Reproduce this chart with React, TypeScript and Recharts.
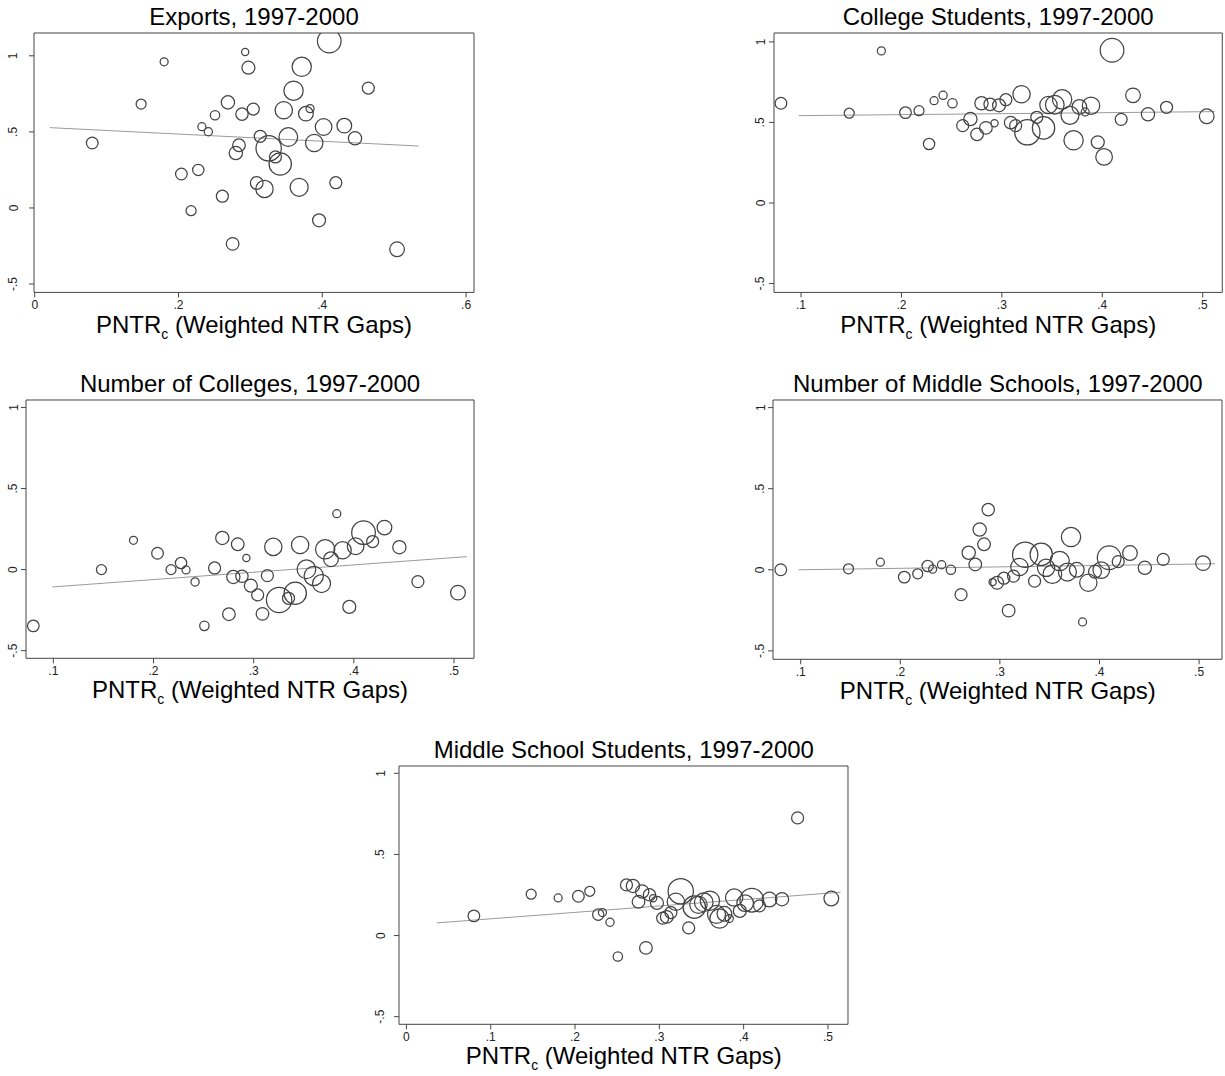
import React from 'react'
import {
  ScatterChart, Scatter, XAxis, YAxis, ZAxis, ReferenceLine, ReferenceArea,
} from 'recharts'

// PNTR_c for the 40 cities (shared by every panel) and the bubble weights
const pntr = [
  0.080, 0.148, 0.180, 0.204, 0.2175, 0.2275, 0.2325, 0.2415, 0.2508, 0.261,
  0.2687, 0.2753, 0.2797, 0.2841, 0.2883, 0.2927, 0.2972, 0.304, 0.3088, 0.3137,
  0.3196, 0.3254, 0.3348, 0.3415, 0.3464, 0.3527, 0.360, 0.3678, 0.3714, 0.3772,
  0.383, 0.3888, 0.3955, 0.4018, 0.4097, 0.4188, 0.4306, 0.4455, 0.464, 0.504,
]
const weight = [
  34, 25, 16, 34, 25, 32, 16, 17, 22, 36,
  44, 40, 44, 40, 38, 13, 42, 36, 40, 36,
  75, 160, 36, 125, 75, 87, 93, 81, 93, 54,
  16, 75, 42, 69, 140, 36, 54, 44, 36, 54,
]

const exportsY = [
  0.427, 0.683, 0.961, 0.223, -0.018, 0.250, 0.534, 0.501, 0.609, 0.077,
  0.694, -0.236, 0.361, 0.412, 0.617, 1.025, 0.922, 0.650, 0.164, 0.471,
  0.125, 0.392, 0.335, 0.289, 0.642, 0.466, 0.771, 0.136, 0.928, 0.620,
  0.653, 0.427, -0.081, 0.532, 1.097, 0.166, 0.541, 0.458, 0.788, -0.272,
]
const collegeStudentsY = [
  0.619, 0.557, 0.944, 0.561, 0.573, 0.366, 0.635, 0.668, 0.619, 0.480,
  0.521, 0.426, 0.619, 0.466, 0.612, 0.495, 0.606, 0.641, 0.499, 0.480,
  0.675, 0.439, 0.532, 0.466, 0.608, 0.610, 0.643, 0.544, 0.389, 0.596,
  0.565, 0.604, 0.377, 0.286, 0.948, 0.519, 0.668, 0.550, 0.594, 0.538,
]
const collegesY = [
  -0.347, 0.0, 0.181, 0.101, 0.0, 0.041, -0.002, -0.076, -0.347, 0.010,
  0.195, -0.275, -0.045, 0.156, -0.041, 0.072, -0.099, -0.156, -0.273, -0.037,
  0.140, -0.187, -0.177, -0.146, 0.152, 0.002, -0.039, -0.086, 0.125, 0.064,
  0.345, 0.119, -0.230, 0.144, 0.228, 0.173, 0.259, 0.138, -0.074, -0.142,
]
const middleSchoolsY = [
  0.0, 0.006, 0.047, -0.045, -0.025, 0.023, 0.004, 0.031, 0.0, -0.153,
  0.105, 0.033, 0.248, 0.157, 0.371, -0.076, -0.080, -0.052, -0.252, -0.039,
  0.017, 0.093, -0.070, 0.095, 0.012, -0.027, 0.054, -0.014, 0.202, 0.0,
  -0.322, -0.080, -0.012, -0.002, 0.074, 0.050, 0.103, 0.012, 0.064, 0.041,
]
const middleStudentsY = [
  0.121, 0.255, 0.232, 0.242, 0.273, 0.129, 0.142, 0.082, -0.129, 0.312,
  0.306, 0.208, 0.271, -0.076, 0.251, 0.230, 0.201, 0.107, 0.115, 0.142,
  0.208, 0.273, 0.047, 0.175, 0.190, 0.205, 0.215, 0.130, 0.105, 0.134,
  0.105, 0.234, 0.152, 0.200, 0.218, 0.183, 0.222, 0.224, 0.725, 0.228,
]

// fitted-line endpoints
const exportsFit = [{ x: 0.021, y: 0.528 }, { x: 0.534, y: 0.407 }]
const collegeStudentsFit = [{ x: 0.098, y: 0.542 }, { x: 0.512, y: 0.567 }]
const collegesFit = [{ x: 0.099, y: -0.107 }, { x: 0.513, y: 0.080 }]
const middleSchoolsFit = [{ x: 0.098, y: 0.0 }, { x: 0.516, y: 0.037 }]
const middleStudentsFit = [{ x: 0.036, y: 0.078 }, { x: 0.515, y: 0.267 }]

const yTicks = [-0.5, 0, 0.5, 1]
const FONT = '"Liberation Sans", Arial, Helvetica, sans-serif'
const INK = '#444'
const Y_W = 30
const X_H = 30

function fmt(v: number): string {
  if (v === 0) return '0'
  return String(v).replace('0.', '.')
}

function Bubble(p: any) {
  const r = p.size != null ? Math.sqrt(p.size / Math.PI) : p.width / 2
  return <circle cx={p.cx} cy={p.cy} r={r} fill="none" stroke={INK} strokeWidth={1.25} />
}

interface PanelProps {
  title: string
  ys: number[]
  fit: { x: number; y: number }[]
  box: { left: number; top: number; width: number; height: number }
  xDomain: [number, number]
  yDomain: [number, number]
  xTicks: number[]
  gap: number
}

function Panel({ ys, fit, box, xDomain, yDomain, xTicks, gap }: PanelProps) {
  const data = pntr.map((x, i) => ({ x, y: ys[i], w: weight[i] }))
  const YTick = (props: any) => {
    const bx = props.x + 5 - gap + 4.5
    return (
      <text
        x={bx} y={props.y} transform={`rotate(-90, ${bx}, ${props.y})`}
        textAnchor="middle" fontSize={12} fill="#222" fontFamily={FONT}
      >
        {fmt(props.payload.value)}
      </text>
    )
  }
  return (
    <div style={{ position: 'absolute', left: box.left - Y_W, top: box.top - 2 }}>
      <ScatterChart
        width={box.width + Y_W + 2}
        height={box.height + 2 + X_H}
        margin={{ top: 2, right: 2, left: 0, bottom: 0 }}
      >
        <XAxis
          type="number" dataKey="x" domain={xDomain} ticks={xTicks} allowDataOverflow
          tickFormatter={fmt} height={X_H} axisLine={false}
          tickLine={{ stroke: INK }} tickSize={5} tickMargin={3}
          tick={{ fontSize: 12, fill: '#222', fontFamily: FONT }}
        />
        <YAxis
          type="number" dataKey="y" domain={yDomain} ticks={yTicks} allowDataOverflow
          width={Y_W} axisLine={false} tickLine={{ stroke: INK }} tickSize={5}
          tickMargin={0} tick={<YTick />}
        />
        <ZAxis type="number" dataKey="w" domain={[0, 200]} range={[0, 200 * Math.PI]} />
        <ReferenceArea
          x1={xDomain[0]} x2={xDomain[1]} y1={yDomain[0]} y2={yDomain[1]}
          fill="none" stroke={INK} strokeWidth={1} ifOverflow="visible"
        />
        <ReferenceLine
          segment={fit} stroke="#9a9a9a" strokeWidth={1} ifOverflow="visible"
        />
        <Scatter data={data} shape={<Bubble />} isAnimationActive={false} />
      </ScatterChart>
    </div>
  )
}

const panels: PanelProps[] = [
  {
    title: 'Exports, 1997-2000', ys: exportsY, fit: exportsFit,
    box: { left: 34, top: 33.3, width: 440, height: 259.4 },
    xDomain: [-0.001, 0.611], yDomain: [-0.555, 1.15], xTicks: [0, 0.2, 0.4, 0.6], gap: 21,
  },
  {
    title: 'College Students, 1997-2000', ys: collegeStudentsY, fit: collegeStudentsFit,
    box: { left: 774, top: 33.3, width: 448.3, height: 259.4 },
    xDomain: [0.0731, 0.5195], yDomain: [-0.555, 1.055], xTicks: [0.1, 0.2, 0.3, 0.4, 0.5], gap: 14,
  },
  {
    title: 'Number of Colleges, 1997-2000', ys: collegesY, fit: collegesFit,
    box: { left: 26, top: 400, width: 448, height: 258.3 },
    xDomain: [0.0727, 0.52], yDomain: [-0.547, 1.046], xTicks: [0.1, 0.2, 0.3, 0.4, 0.5], gap: 13,
  },
  {
    title: 'Number of Middle Schools, 1997-2000', ys: middleSchoolsY, fit: middleSchoolsFit,
    box: { left: 773.3, top: 400, width: 449, height: 259.3 },
    xDomain: [0.0722, 0.523], yDomain: [-0.552, 1.047], xTicks: [0.1, 0.2, 0.3, 0.4, 0.5], gap: 13,
  },
  {
    title: 'Middle School Students, 1997-2000', ys: middleStudentsY, fit: middleStudentsFit,
    box: { left: 399.3, top: 766, width: 449, height: 258.3 },
    xDomain: [-0.0088, 0.5238], yDomain: [-0.547, 1.045], xTicks: [0, 0.1, 0.2, 0.3, 0.4, 0.5], gap: 19,
  },
]

export default function App() {
  return (
    <div style={{ position: 'absolute', left: 0, top: 0, width: 1225, height: 1076, background: '#fff' }}>
      {panels.map((p) => <Panel key={p.title} {...p} />)}
      <svg
        width={1225} height={1076}
        style={{ position: 'absolute', left: 0, top: 0, pointerEvents: 'none' }}
        fontFamily={FONT}
      >
        {panels.map((p) => {
          const cx = p.box.left + p.box.width / 2
          return (
            <g key={p.title}>
              <text x={cx} y={p.box.top - 8} textAnchor="middle" fontSize={24} fill="#000">
                {p.title}
              </text>
              <text x={cx} y={p.box.top + p.box.height + 40} textAnchor="middle" fontSize={24} fill="#000">
                PNTR<tspan fontSize={14} dy={6}>c</tspan>
                <tspan dy={-6}> (Weighted NTR Gaps)</tspan>
              </text>
            </g>
          )
        })}
      </svg>
    </div>
  )
}
